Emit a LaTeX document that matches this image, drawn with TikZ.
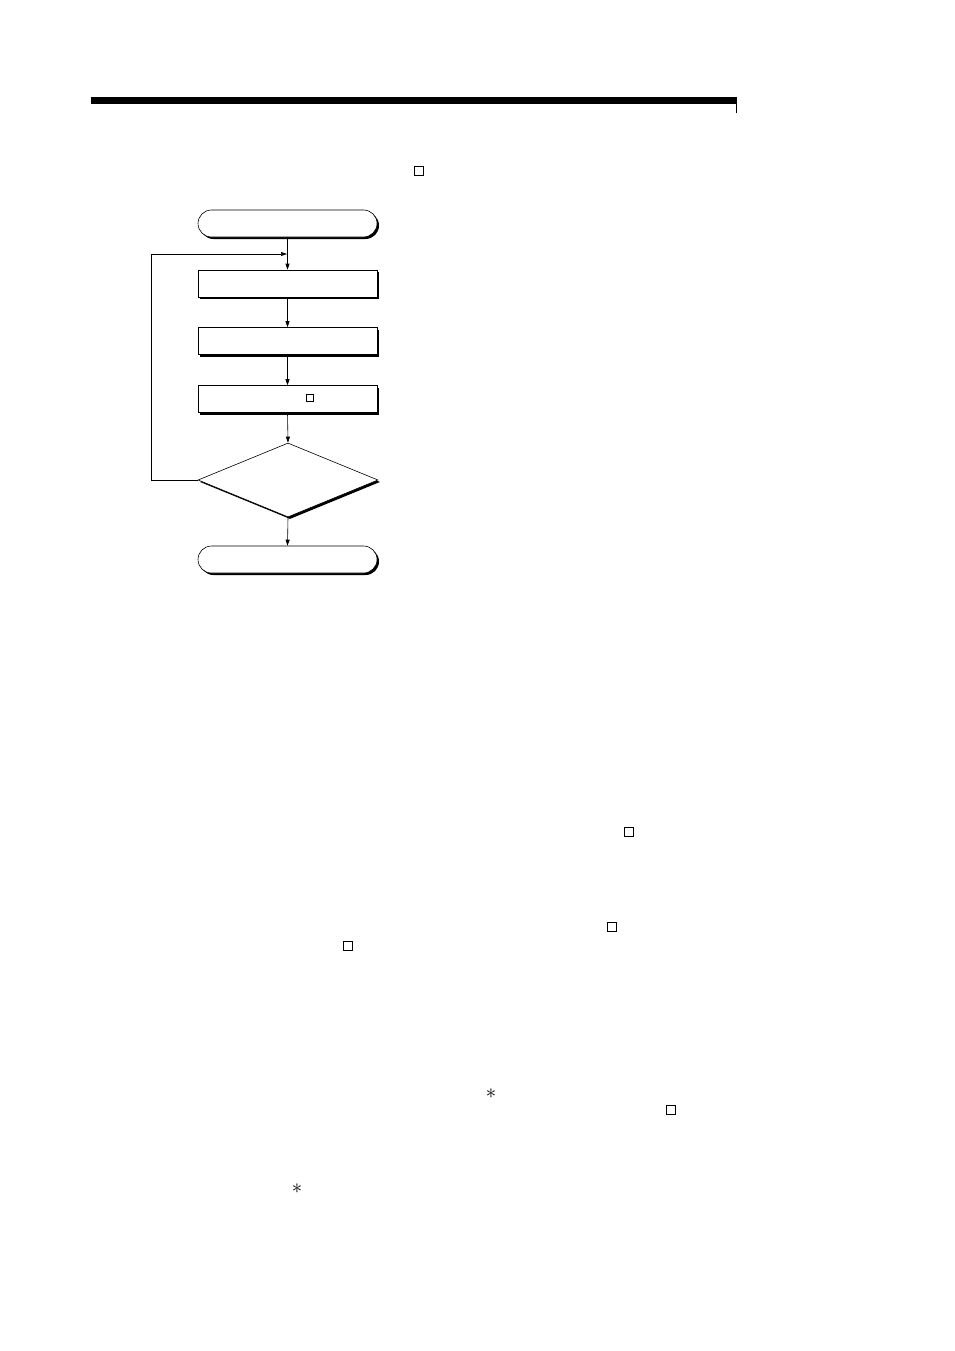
\documentclass[tikz,border=0pt]{standalone}
\usetikzlibrary{shapes.misc,shapes.geometric,shadows,arrows.meta}
\begin{document}
\begin{tikzpicture}[x=1pt,y=-1pt,
  shd/.style={drop shadow={shadow xshift=2pt,shadow yshift=-2pt,opacity=1,fill=black}},
  term/.style={rounded rectangle,draw,line width=0.6pt,minimum width=179pt,minimum height=27pt,inner sep=0pt,fill=white,shd},
  procbox/.style={rectangle,draw,line width=0.6pt,minimum width=179pt,minimum height=27pt,inner sep=0pt,fill=white,shd},
  decbox/.style={diamond,draw,line width=0.6pt,minimum width=180pt,minimum height=74pt,inner sep=0pt,fill=white,shd},
  arr/.style={line width=0.6pt,-{Triangle[length=6pt,width=4pt]}},
  sq/.style={draw,line width=0.7pt,minimum size=9pt,inner sep=0pt},
  star/.style={inner sep=0pt,font=\huge}
]
\useasboundingbox (0,0) rectangle (954,1351);
% header bar
\fill (91,97) rectangle (736,104);
\draw[line width=0.6pt] (736,97) -- (736,113);
% flowchart
\node[term] (start) at (287.5,223.5) {};
\node[procbox] (b1) at (287.5,283.5) {};
\node[procbox] (b2) at (287.5,341) {};
\node[procbox] (b3) at (287.5,399) {};
\node[sq,minimum size=7pt] (s0) at (310,398) {};
\node[decbox] (dec) at (288,480) {};
\node[term] (stop) at (287.5,559.5) {};
\coordinate (fb) at (287,254);
\coordinate (fl) at (151,480);
\draw[arr] (start.south) -- (b1.north);
\draw[arr] (b1.south) -- (b2.north);
\draw[arr] (b2.south) -- (b3.north);
\draw[arr] (b3.south) -- (dec.north);
\draw[arr] (dec.south) -- (stop.north);
\draw[arr] (dec.west) -- (fl) |- (fb);
% text markers
\node[sq] (s1) at (419,171) {};
\node[sq] (s2) at (629,832) {};
\node[sq] (s3) at (612,927) {};
\node[sq] (s4) at (348,946) {};
\node[sq] (s5) at (671,1110) {};
\node[star] (a1) at (491,1094) {$\ast$};
\node[star] (a2) at (297,1189) {$\ast$};
\end{tikzpicture}
\end{document}
